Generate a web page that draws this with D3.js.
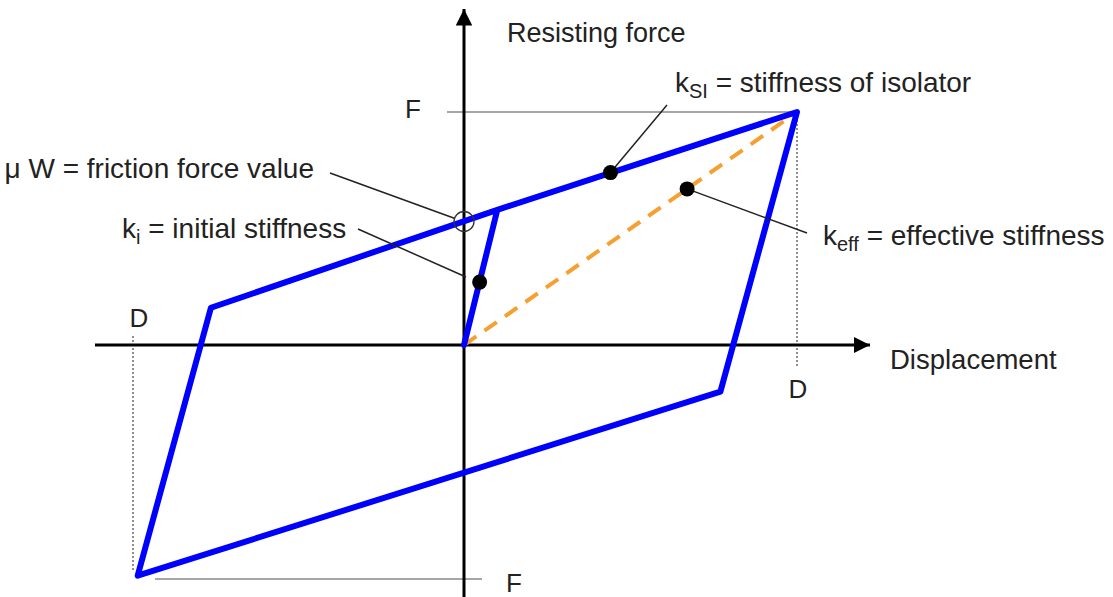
<!DOCTYPE html>
<html>
<head>
<meta charset="utf-8">
<script src="https://cdn.jsdelivr.net/npm/d3@7"></script>
<style>
  body { margin: 0; background: #fff; }
  svg text { font-family: "Liberation Sans", Arial, sans-serif; fill: #222; }
</style>
</head>
<body>
<div id="chart"></div>
<script>
// hysteresis loop of a friction isolator (D = 1, F = 1 units)
const loopX = [0, 0.10, 1, 0.77, -0.98, -0.76, 0.10];
const loopY = [0, 0.58, 1, -0.20, -0.99, 0.16, 0.58];

// effective stiffness line
const effX = [0, 1];
const effY = [0, 1];

// marker points: k_i, k_SI, k_eff
const dotX = [0.047, 0.44, 0.67];
const dotY = [0.27, 0.74, 0.67];

// friction force point on the force axis
const frictionX = 0;
const frictionY = 0.53;

const axisTitles = ["Displacement", "Resisting force"];
const tickLabels = ["D", "F"];

const WIDTH = 1113;
const HEIGHT = 597;

const svg = d3
  .select("#chart")
  .append("svg")
  .attr("width", WIDTH)
  .attr("height", HEIGHT);

const x = d3.scaleLinear().domain([-1, 1]).range([131, 797]);
const y = d3.scaleLinear().domain([-1, 1]).range([578, 112]);

// guide lines to D and F
const guides = svg.append("g").attr("fill", "none");
guides.append("line")
  .attr("x1", x(0) - 17).attr("x2", x(1))
  .attr("y1", y(1)).attr("y2", y(1))
  .attr("stroke", "#888").attr("stroke-width", 1.3);
guides.append("line")
  .attr("x1", x(1)).attr("x2", x(1))
  .attr("y1", y(1)).attr("y2", y(0) + 22)
  .attr("stroke", "#444").attr("stroke-width", 1.2)
  .attr("stroke-dasharray", "2,2");
guides.append("line")
  .attr("x1", x(-1) + 2).attr("x2", x(-1) + 2)
  .attr("y1", y(0) - 9).attr("y2", y(-1) - 8)
  .attr("stroke", "#444").attr("stroke-width", 1.2)
  .attr("stroke-dasharray", "2,2");
guides.append("line")
  .attr("x1", x(-1) + 24).attr("x2", x(0) + 18)
  .attr("y1", y(-1) + 1).attr("y2", y(-1) + 1)
  .attr("stroke", "#888").attr("stroke-width", 1.3);

// axes with arrow heads
svg.append("defs")
  .append("marker")
  .attr("id", "arrow")
  .attr("viewBox", "0 0 10 10")
  .attr("refX", 10).attr("refY", 5)
  .attr("markerWidth", 5.5).attr("markerHeight", 5.5)
  .attr("markerUnits", "strokeWidth")
  .attr("orient", "auto")
  .append("path")
  .attr("d", "M0,0 L10,5 L0,10 Z")
  .attr("fill", "#000");

svg.append("line")
  .attr("x1", 95).attr("x2", 870)
  .attr("y1", y(0)).attr("y2", y(0))
  .attr("stroke", "#000").attr("stroke-width", 3)
  .attr("marker-end", "url(#arrow)");

svg.append("line")
  .attr("x1", x(0)).attr("x2", x(0))
  .attr("y1", HEIGHT).attr("y2", 9)
  .attr("stroke", "#000").attr("stroke-width", 3)
  .attr("marker-end", "url(#arrow)");

// effective stiffness (dashed)
const effLine = d3.line().x((d) => x(d[0])).y((d) => y(d[1]));
svg.append("path")
  .attr("d", effLine(d3.zip(effX, effY)))
  .attr("fill", "none")
  .attr("stroke", "#F5A030")
  .attr("stroke-width", 4)
  .attr("stroke-dasharray", "15,10");

// hysteresis loop
const loopLine = d3.line().x((d) => x(d[0])).y((d) => y(d[1]));
svg.append("path")
  .attr("d", loopLine(d3.zip(loopX, loopY)))
  .attr("fill", "none")
  .attr("stroke", "#0000FF")
  .attr("stroke-width", 6)
  .attr("stroke-linejoin", "round")
  .attr("stroke-linecap", "round");

// leader lines
const leaders = [
  [330, 173, x(frictionX) - 9, y(frictionY) - 3],
  [358, 229, x(0) + 2, 277],
  [667, 105, x(dotX[1]), y(dotY[1])],
  [807, 233, x(dotX[2]), y(dotY[2])],
];
svg.append("g")
  .selectAll("line")
  .data(leaders)
  .enter()
  .append("line")
  .attr("x1", (d) => d[0]).attr("y1", (d) => d[1])
  .attr("x2", (d) => d[2]).attr("y2", (d) => d[3])
  .attr("stroke", "#222")
  .attr("stroke-width", 1.5);

// friction circle
svg.append("circle")
  .attr("cx", x(frictionX))
  .attr("cy", y(frictionY))
  .attr("r", 10)
  .attr("fill", "none")
  .attr("stroke", "#333")
  .attr("stroke-width", 1.3);

// stiffness markers
svg.append("g")
  .selectAll("circle")
  .data(d3.zip(dotX, dotY))
  .enter()
  .append("circle")
  .attr("cx", (d) => x(d[0]))
  .attr("cy", (d) => y(d[1]))
  .attr("r", 7.5)
  .attr("fill", "#000");

// axis titles
svg.append("text")
  .attr("x", 890).attr("y", 369)
  .attr("font-size", 27.5)
  .text(axisTitles[0]);
svg.append("text")
  .attr("x", 507).attr("y", 42)
  .attr("font-size", 27)
  .text(axisTitles[1]);

// D and F labels
const tick = svg.append("g").attr("font-size", 26).attr("text-anchor", "middle");
tick.append("text").attr("x", x(-1) + 8).attr("y", 327).text(tickLabels[0]);
tick.append("text").attr("x", x(1) + 1).attr("y", 398).text(tickLabels[0]);
tick.append("text").attr("x", 413).attr("y", 118).text(tickLabels[1]);
tick.append("text").attr("x", 514).attr("y", 592).text(tickLabels[1]);

// annotation labels with subscripts
function label(xp, yp, anchor, main, sub, rest) {
  const t = svg.append("text")
    .attr("x", xp).attr("y", yp)
    .attr("font-size", 28)
    .attr("text-anchor", anchor);
  t.append("tspan").text(main);
  if (sub) {
    t.append("tspan").attr("dy", 6).attr("font-size", 20).text(sub);
    t.append("tspan").attr("dy", -6).text("\u00a0" + rest);
  } else {
    t.append("tspan").text(rest);
  }
}

label(314, 178, "end", "", null, "\u03bc W = friction force value");
label(122, 238, "start", "k", "i", "= initial stiffness");
label(675, 92, "start", "k", "SI", "= stiffness of isolator");
label(823, 245, "start", "k", "eff", "= effective stiffness");
</script>
</body>
</html>
